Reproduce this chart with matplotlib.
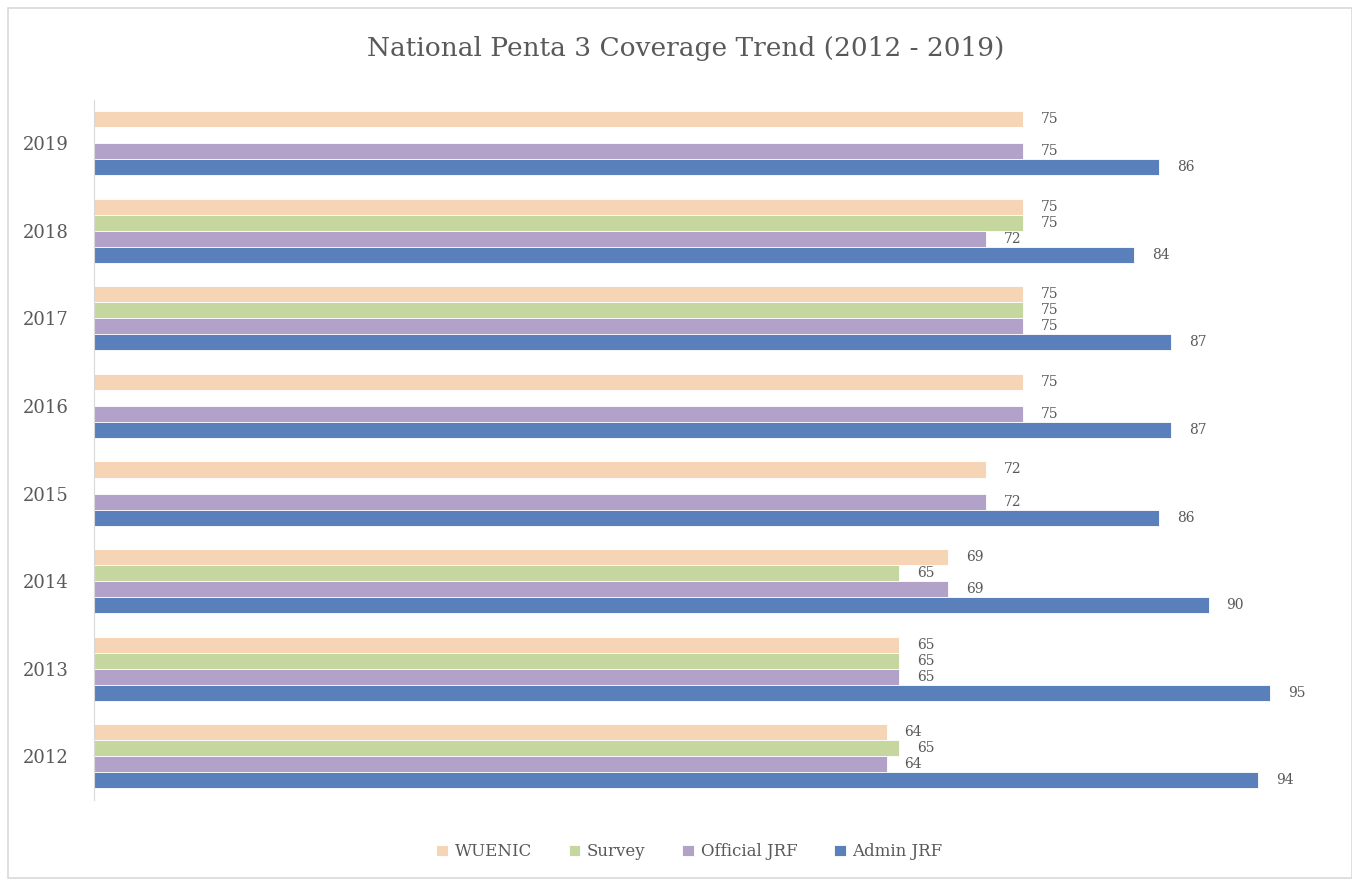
import matplotlib.pyplot as plt
import numpy as np
from matplotlib.patches import Rectangle


years = ["2012", "2013", "2014", "2015", "2016", "2017", "2018", "2019"]
wuenic = [64, 65, 69, 72, 75, 75, 75, 75]
survey = [65, 65, 65, np.nan, np.nan, 75, 75, np.nan]
official_jrf = [64, 65, 69, 72, 75, 75, 72, 75]
admin_jrf = [94, 95, 90, 86, 87, 87, 84, 86]

series = [
    ("WUENIC", wuenic, "#F6D4B6"),
    ("Survey", survey, "#C6D69F"),
    ("Official JRF", official_jrf, "#B2A1C8"),
    ("Admin JRF", admin_jrf, "#5980BA"),
]

TEXT_COLOR = "#595959"
FONT = ["DejaVu Serif"]


def main():
    plt.rcParams["font.family"] = FONT
    fig = plt.figure(figsize=(13.52, 8.81), dpi=100)
    fig.patches.append(
        Rectangle((0.006, 0.003), 0.994, 0.988, transform=fig.transFigure,
                  fill=False, edgecolor="#D9D9D9", linewidth=1.2)
    )
    ax = fig.add_axes([0.0695, 0.092, 0.916, 0.795])

    y = np.arange(len(years))
    bar_h = 0.183
    # top bar in each group is WUENIC, bottom is Admin JRF
    offsets = [1.5 * bar_h, 0.5 * bar_h, -0.5 * bar_h, -1.5 * bar_h]

    for (name, values, color), off in zip(series, offsets):
        vals = np.array(values, dtype=float)
        bars = ax.barh(y + off, vals, height=bar_h, color=color,
                       edgecolor="white", linewidth=0.6, label=name)
        for rect, v in zip(bars, vals):
            if np.isnan(v):
                continue
            ax.annotate(f"{v:.0f}", (v, rect.get_y() + rect.get_height() / 2),
                        xytext=(13, 0), textcoords="offset points",
                        va="center", ha="left", fontsize=10, color=TEXT_COLOR)

    ax.set_xlim(0, 100)
    ax.set_ylim(-0.5, len(years) - 0.5)
    ax.set_yticks(y)
    ax.set_yticklabels(years, fontsize=13, color=TEXT_COLOR)
    ax.tick_params(axis="y", length=0, pad=18)
    ax.set_xticks([])
    for side in ["top", "right", "bottom"]:
        ax.spines[side].set_visible(False)
    ax.spines["left"].set_color("#D9D9D9")

    fig.text(0.507, 0.945, "National Penta 3 Coverage Trend (2012 - 2019)",
             ha="center", va="center", fontsize=19, color=TEXT_COLOR)

    handles, labels = ax.get_legend_handles_labels()
    leg = fig.legend(handles, labels, loc="center", bbox_to_anchor=(0.51, 0.033),
                     ncol=4, frameon=False, fontsize=12, handlelength=0.7,
                     handleheight=0.7, handletextpad=0.4, columnspacing=2.2)
    for text in leg.get_texts():
        text.set_color(TEXT_COLOR)

    fig.savefig("out.png", dpi=100)


if __name__ == "__main__":
    main()
